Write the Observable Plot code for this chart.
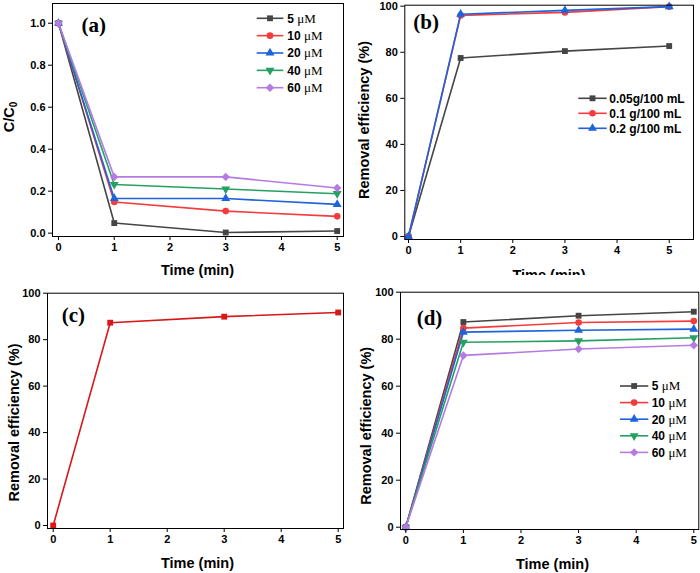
<!DOCTYPE html>
<html>
<head>
<meta charset="utf-8">
<script src="https://cdn.jsdelivr.net/npm/d3@7"></script>
<script src="https://cdn.jsdelivr.net/npm/@observablehq/plot@0.6"></script>
<style>
  html, body { margin: 0; padding: 0; background: #fff; }
  #wrap { position: relative; width: 700px; height: 573px; background: #fff; overflow: hidden; }
  .panel { position: absolute; overflow: hidden; }
</style>
</head>
<body>
<div id="wrap">
  <div class="panel" id="pa" style="left:0px;top:0px;width:350px;height:280px"></div>
  <div class="panel" id="pb" style="left:350px;top:0px;width:350px;height:275px"></div>
  <div class="panel" id="pc" style="left:0px;top:280px;width:350px;height:293px"></div>
  <div class="panel" id="pd" style="left:350px;top:280px;width:350px;height:293px"></div>
</div>
<script>
// ---------- data ----------
const times = [0, 1, 3, 5];
const xTicks = [0, 1, 2, 3, 4, 5];

const aLabels = ["5", "10", "20", "40", "60"];
const aValues = [
  [1.0, 0.048, 0.003, 0.010],
  [1.0, 0.148, 0.105, 0.080],
  [1.0, 0.165, 0.165, 0.137],
  [1.0, 0.232, 0.210, 0.188],
  [1.0, 0.268, 0.268, 0.215]
];
const aTicks = [0, 0.2, 0.4, 0.6, 0.8, 1.0];

const bLabels = ["0.05g/100 mL", "0.1 g/100 mL", "0.2 g/100 mL"];
const bValues = [
  [0, 77.5, 80.5, 82.7],
  [0, 96.0, 97.3, 99.8],
  [0, 96.5, 98.2, 99.8]
];

const cValues = [0, 87.3, 89.9, 91.7];

const dLabels = ["5", "10", "20", "40", "60"];
const dValues = [
  [0, 87.3, 90.0, 91.7],
  [0, 84.7, 87.1, 87.7],
  [0, 83.0, 83.8, 84.3],
  [0, 78.7, 79.3, 80.6],
  [0, 73.1, 75.8, 77.4]
];
const pctTicks = [0, 20, 40, 60, 80, 100];

// ---------- styles ----------
const sqrt3 = Math.sqrt(3);
const triDown = {
  draw(context, size) {
    const y = Math.sqrt(size / (sqrt3 * 3));
    context.moveTo(0, y * 2);
    context.lineTo(-sqrt3 * y, -y);
    context.lineTo(sqrt3 * y, -y);
    context.closePath();
  }
};
const d3Sym = {square: d3.symbolSquare, circle: d3.symbolCircle, triangle: d3.symbolTriangle, diamond2: d3.symbolDiamond2};
const concStyles = [
  {color: "#454545", symbol: "square"},
  {color: "#f53b3b", symbol: "circle"},
  {color: "#1c63dc", symbol: "triangle"},
  {color: "#26a062", symbol: triDown},
  {color: "#b57be3", symbol: "diamond2"}
];
const bStyles = concStyles.slice(0, 3);
const cStyle = [{color: "#d81818", symbol: "square"}];

const FONT = "'Liberation Sans', Arial, sans-serif";
const SERIF = "'Liberation Serif', 'Times New Roman', serif";

function makePanel(o) {
  const rows = [];
  o.values.forEach((vals, k) => vals.forEach((v, j) => rows.push({t: times[j], v, k})));
  const marks = [];
  o.values.forEach((vals, k) => {
    const s = o.styles[k];
    const d = rows.filter(r => r.k === k);
    marks.push(Plot.line(d, {x: "t", y: "v", stroke: s.color, strokeWidth: 1.6}));
    marks.push(Plot.dot(d, {x: "t", y: "v", fill: s.color, stroke: "none", symbol: s.symbol, r: s.symbol === "diamond2" ? 3.8 : 3.3}));
  });
  marks.push(Plot.frame({stroke: "#000", strokeWidth: 1}));
  marks.push(Plot.axisX({ticks: xTicks, tickSize: 4, tickPadding: 3, label: null, tickFormat: d3.format("d"), stroke: "#000"}));
  marks.push(Plot.axisY({ticks: o.yTicks, tickSize: 4, tickPadding: 3, label: null, tickFormat: o.yFormat, stroke: "#000"}));
  const svg = Plot.plot({
    width: o.width, height: o.height,
    marginLeft: o.m[0], marginRight: o.m[1], marginTop: o.m[2], marginBottom: o.m[3],
    x: {domain: o.xDomain},
    y: {domain: o.yDomain},
    style: {fontFamily: FONT, fontSize: "11px", fontWeight: "bold", background: "#fff", color: "#000", overflow: "visible"},
    marks
  });
  const g = d3.select(svg);
  // x label
  g.append("text").attr("x", o.xl[0]).attr("y", o.xl[1]).attr("text-anchor", "middle")
    .style("font-family", FONT).style("font-weight", "bold").style("font-size", "14.5px").text("Time (min)");
  // y label
  const yt = g.append("text").attr("transform", `translate(${o.yl[0]},${o.yl[1]}) rotate(-90)`).attr("text-anchor", "middle")
    .style("font-family", FONT).style("font-weight", "bold").style("font-size", "14.5px");
  if (o.yLabelSub) {
    yt.append("tspan").text("C/C");
    yt.append("tspan").attr("dy", "0.3em").style("font-size", "10px").text("0");
  } else {
    yt.text(o.yLabel);
  }
  // panel tag
  g.append("text").attr("x", o.tag[0]).attr("y", o.tag[1]).attr("text-anchor", "start")
    .style("font-family", SERIF).style("font-weight", "bold").style("font-size", "21px").text(o.tagText);
  // legend
  if (o.legend) {
    const L = o.legend;
    L.labels.forEach((lab, i) => {
      const s = o.styles[i];
      const y = L.y0 + i * L.dy;
      g.append("line").attr("x1", L.x1).attr("x2", L.x2).attr("y1", y).attr("y2", y)
        .attr("stroke", s.color).attr("stroke-width", 1.6);
      const type = typeof s.symbol === "string" ? d3Sym[s.symbol] : s.symbol;
      const rr = s.symbol === "diamond2" ? 3.8 : 3.3;
      g.append("path").attr("d", d3.symbol(type, Math.PI * rr * rr)())
        .attr("transform", `translate(${(L.x1 + L.x2) / 2},${y})`).attr("fill", s.color);
      const t = g.append("text").attr("x", L.tx).attr("y", y).attr("dy", "0.36em").attr("text-anchor", "start")
        .style("font-family", FONT).style("font-weight", "bold").style("font-size", "12px");
      if (L.unit) {
        t.append("tspan").text(lab + " ");
        t.append("tspan").style("font-family", SERIF).style("font-weight", "normal").style("font-size", "13px").text("μM");
      } else {
        t.text(lab);
      }
    });
  }
  document.getElementById(o.el).appendChild(svg);
}

makePanel({
  el: "pa", width: 350, height: 280, m: [52, 7, 3, 44],
  xDomain: [-0.108, 5.113], yDomain: [-0.016, 1.094],
  yTicks: aTicks, yFormat: d3.format(".1f"),
  values: aValues, styles: concStyles,
  xl: [197.5, 274.5], yl: [14, 117], yLabelSub: true,
  tag: [81.5, 32], tagText: "(a)",
  legend: {labels: aLabels, unit: true, x1: 256.7, x2: 283.3, tx: 287.3, y0: 18.3, dy: 17.35}
});

makePanel({
  el: "pb", width: 350, height: 280, m: [54.3, 7, 4.7, 41],
  xDomain: [-0.071, 5.466], yDomain: [-1.3, 100.43],
  yTicks: pctTicks, yFormat: d3.format("d"),
  values: bValues, styles: bStyles,
  xl: [199, 279.5], yl: [19, 120], yLabel: "Removal efficiency (%)",
  tag: [63.3, 29], tagText: "(b)",
  legend: {labels: bLabels, unit: false, x1: 228.3, x2: 256.7, tx: 259.3, y0: 98.3, dy: 15}
});

makePanel({
  el: "pc", width: 350, height: 293, m: [47, 7, 12.7, 45],
  xDomain: [-0.1, 5.093], yDomain: [-1.29, 100],
  yTicks: pctTicks, yFormat: d3.format("d"),
  values: [cValues], styles: cStyle,
  xl: [197.5, 287.5], yl: [19, 142.5], yLabel: "Removal efficiency (%)",
  tag: [61.7, 42], tagText: "(c)"
});

makePanel({
  el: "pd", width: 350, height: 293, m: [50, 1.7, 11.7, 44],
  xDomain: [-0.092, 5.087], yDomain: [-0.98, 100],
  yTicks: pctTicks, yFormat: d3.format("d"),
  values: dValues, styles: concStyles,
  xl: [202.5, 289], yl: [21, 145.8], yLabel: "Removal efficiency (%)",
  tag: [66.7, 45], tagText: "(d)",
  legend: {labels: dLabels, unit: true, x1: 270, x2: 298.3, tx: 301.7, y0: 106, dy: 16.6}
});
</script>
</body>
</html>
